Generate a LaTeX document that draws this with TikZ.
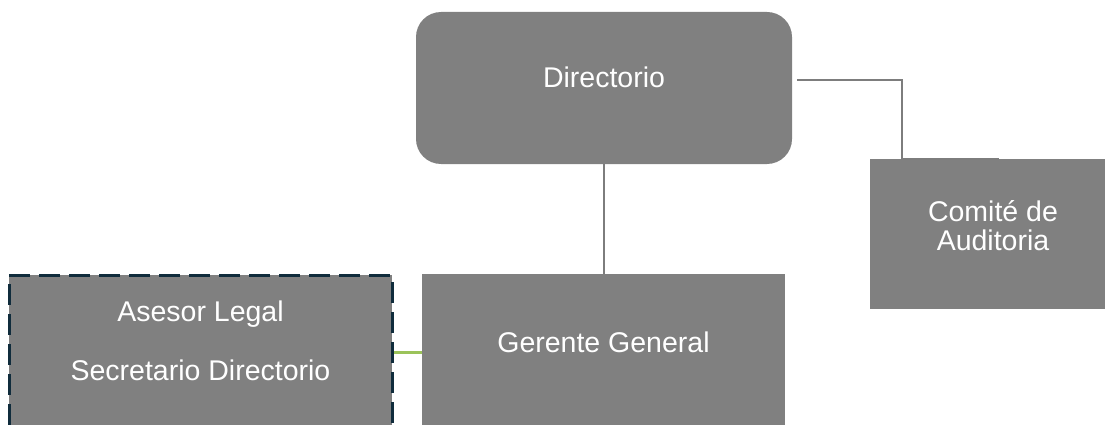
\documentclass[tikz,border=0pt]{standalone}
\usepackage{fontspec}
\setmainfont{Liberation Sans}
\usetikzlibrary{calc}
\definecolor{boxgray}{RGB}{128,128,128}
\definecolor{linegray}{RGB}{125,125,125}
\definecolor{dashnavy}{RGB}{16,44,60}
\definecolor{linkgreen}{RGB}{155,195,90}

\begin{document}
\begin{tikzpicture}[x=1pt,y=-1pt,font=\fontsize{28.5pt}{29pt}\selectfont,
    unit/.style={fill=boxgray,draw=none,text=white,inner sep=0pt,align=center},
    oneline/.style={text height=10pt,text depth=10pt},
    conn/.style={draw=linegray,line width=2.5pt}]
  \useasboundingbox (0,0) rectangle (1105,425);
  \clip (0,0) rectangle (1105,425);
  \node[unit,oneline,rounded corners=25pt,minimum width=376pt,minimum height=152pt] (dir) at (604,88) {Directorio};
  \node[unit,text height=42pt,text depth=10pt,minimum width=246pt,minimum height=150pt] (com) at (993,234) {Comité de\\Auditoria};
  \node[unit,oneline,minimum width=363pt,minimum height=156pt] (ger) at (603.5,352) {Gerente General};
  \node[unit,draw=dashnavy,line width=3pt,dash pattern=on 21pt off 9pt,
        text height=65pt,text depth=10pt,
        minimum width=383pt,minimum height=155pt] (ase) at (200.5,352.5)
        {Asesor Legal\\[30pt]Secretario Directorio};
  \draw[conn] ([xshift=5pt,yshift=8pt]dir.east) -| ([xshift=32pt]com.north west) -- ([xshift=129pt]com.north west);
  \draw[conn] (dir.south) -- (dir.south |- ger.north);
  \draw[draw=linkgreen,line width=2.4pt] (ase.east) -- (ger.west |- ase.east);
\end{tikzpicture}
\end{document}
